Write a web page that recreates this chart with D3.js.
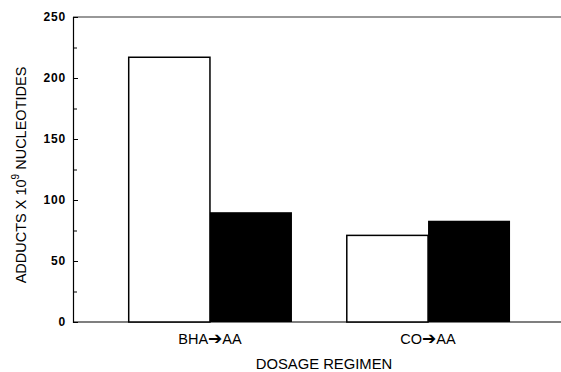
<!DOCTYPE html>
<html>
<head>
<meta charset="utf-8">
<script src="https://cdn.jsdelivr.net/npm/d3@7"></script>
<style>
  body { margin: 0; background: #fff; }
  text { font-family: "Liberation Sans", Arial, Helvetica, sans-serif; fill: #000; }
</style>
</head>
<body>
<script>
// data
var groups = ["BHA", "CO"];
var arrowTo = "AA";
var openValues = [217, 71];
var filledValues = [90, 83];
var yTicks = [0, 50, 100, 150, 200, 250];
var yMinorTicks = [25, 75, 125, 175, 225];

var width = 561, height = 372;

var svg = d3.select("body").append("svg")
  .attr("width", width)
  .attr("height", height);

var y = d3.scaleLinear()
  .domain([0, 250])
  .range([322, 17]);

// group centres
var x0 = d3.scalePoint()
  .domain(groups)
  .range([73, 565])
  .padding(0.628);

// two bars side by side in each group
var x1 = d3.scaleBand()
  .domain(["open", "filled"])
  .range([-82, 82]);

// frame: top and bottom lines
svg.append("line")
  .attr("x1", 73).attr("x2", width)
  .attr("y1", y(250)).attr("y2", y(250))
  .attr("stroke", "#333").attr("stroke-width", 1.2);

svg.append("line")
  .attr("x1", 73).attr("x2", width)
  .attr("y1", y(0)).attr("y2", y(0))
  .attr("stroke", "#000").attr("stroke-width", 1.2);

// y axis, ticks pointing inward
var yAxis = svg.append("g")
  .attr("transform", "translate(73,0)")
  .call(d3.axisLeft(y).tickValues(yTicks).tickSize(-5).tickPadding(7));

yAxis.select(".domain").attr("stroke-width", 1.2);
yAxis.selectAll("text")
  .style("font-size", "12px")
  .style("font-weight", "bold")
  .style("letter-spacing", "0.8px")
  .attr("font-family", null);

svg.append("g")
  .attr("transform", "translate(73,0)")
  .call(d3.axisLeft(y).tickValues(yMinorTicks).tickSize(-4).tickFormat(""))
  .select(".domain").remove();

// bars
var bars = svg.append("g");
groups.forEach(function (g, i) {
  bars.append("rect")
    .attr("x", x0(g) + x1("open") + 0.75)
    .attr("y", y(openValues[i]))
    .attr("width", x1.bandwidth() - 0.75)
    .attr("height", y(0) - y(openValues[i]))
    .attr("fill", "#fff")
    .attr("stroke", "#000")
    .attr("stroke-width", 1.5);

  bars.append("rect")
    .attr("x", x0(g) + x1("filled"))
    .attr("y", y(filledValues[i]))
    .attr("width", x1.bandwidth())
    .attr("height", y(0) - y(filledValues[i]))
    .attr("fill", "#000");
});

// category labels
groups.forEach(function (g) {
  var t = svg.append("text")
    .attr("x", x0(g))
    .attr("y", 344)
    .attr("text-anchor", "middle")
    .style("font-size", "14.5px");
  t.append("tspan").text(g);
  t.append("tspan")
    .style("font-family", "'DejaVu Sans', sans-serif")
    .style("font-size", "17px")
    .text("\u2794");
  t.append("tspan").text(arrowTo);
});

// axis titles
svg.append("text")
  .attr("x", 324)
  .attr("y", 369)
  .attr("text-anchor", "middle")
  .style("font-size", "14.8px")
  .text("DOSAGE REGIMEN");

var yt = svg.append("text")
  .attr("transform", "translate(26,175) rotate(-90)")
  .attr("text-anchor", "middle")
  .style("font-size", "14.5px");
yt.append("tspan").text("ADDUCTS X 10");
yt.append("tspan").attr("dy", -7).style("font-size", "10px").text("9");
yt.append("tspan").attr("dy", 7).text(" NUCLEOTIDES");
</script>
</body>
</html>
